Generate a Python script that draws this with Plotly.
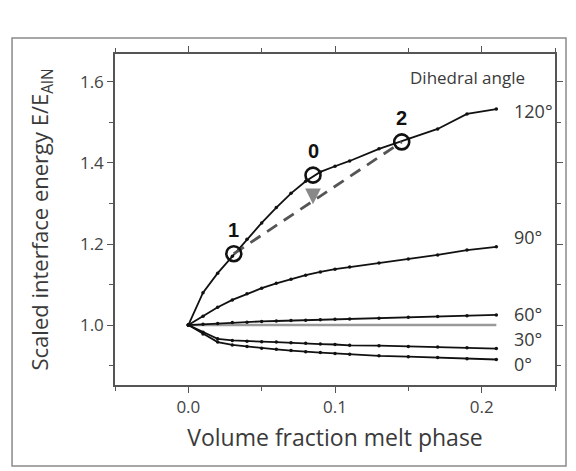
import plotly.graph_objects as go

x_vals = [0, 0.01, 0.02, 0.03, 0.04, 0.05, 0.06, 0.07, 0.08, 0.09, 0.10, 0.11, 0.13, 0.15, 0.17, 0.19, 0.21]
e_120 = [1.0, 1.080, 1.128, 1.170, 1.212, 1.252, 1.290, 1.325, 1.355, 1.378, 1.392, 1.405, 1.435, 1.460, 1.484, 1.521, 1.533]
e_90 = [1.0, 1.022, 1.044, 1.062, 1.077, 1.091, 1.103, 1.113, 1.123, 1.131, 1.138, 1.143, 1.153, 1.163, 1.173, 1.185, 1.193]
e_60 = [1.0, 1.002, 1.004, 1.006, 1.007, 1.009, 1.010, 1.011, 1.012, 1.013, 1.014, 1.015, 1.017, 1.019, 1.021, 1.023, 1.025]
e_30 = [1.0, 0.982, 0.966, 0.962, 0.960, 0.959, 0.958, 0.956, 0.955, 0.953, 0.952, 0.950, 0.949, 0.947, 0.946, 0.944, 0.942]
e_0 = [1.0, 0.978, 0.958, 0.951, 0.947, 0.943, 0.940, 0.937, 0.934, 0.932, 0.930, 0.928, 0.924, 0.922, 0.920, 0.917, 0.915]
ref_x = [0, 0.21]
ref_y = [1.0, 1.0]

circ_x = [0.031, 0.085, 0.1455]
circ_y = [1.176, 1.370, 1.452]
circ_labels = ["1", "0", "2"]
dash_x = [0.031, 0.1455]
dash_y = [1.176, 1.452]

angle_labels = ["120°", "90°", "60°", "30°", "0°"]
angle_label_y = [1.528, 1.217, 1.027, 0.965, 0.904]

FONT = "Open Sans"
TXT = "#3a3a3a"

fig = go.Figure()

fig.add_trace(go.Scatter(x=ref_x, y=ref_y, mode="lines",
                         line=dict(color="#9a9a9a", width=2.5), showlegend=False))
for ys in [e_0, e_30, e_60, e_90, e_120]:
    fig.add_trace(go.Scatter(x=x_vals, y=ys, mode="lines+markers",
                             line=dict(color="#111111", width=1.8),
                             marker=dict(color="#111111", size=3.5),
                             showlegend=False))

fig.add_trace(go.Scatter(x=dash_x, y=dash_y, mode="lines",
                         line=dict(color="#555555", width=2.8, dash="12px,8px"),
                         showlegend=False))
fig.add_trace(go.Scatter(x=circ_x, y=circ_y, mode="markers",
                         marker=dict(symbol="circle-open", size=15, color="#111111",
                                     line=dict(width=2.6, color="#111111")),
                         showlegend=False))

# arrow from circle 0 down to the dashed line
fig.add_annotation(x=circ_x[1], y=1.298, ax=circ_x[1], ay=circ_y[1] - 0.016,
                   xref="x", yref="y", axref="x", ayref="y", text=" ",
                   showarrow=True, arrowhead=2, arrowsize=0.9, arrowwidth=3.5,
                   arrowcolor="#888888")

for cx, cy, lab in zip(circ_x, circ_y, circ_labels):
    fig.add_annotation(x=cx, y=cy, text=f"<b>{lab}</b>", showarrow=False,
                       yshift=24, font=dict(family="Liberation Sans", size=20, color="#111111"))

for lab, ly in zip(angle_labels, angle_label_y):
    fig.add_annotation(x=0.221, y=ly, text=lab, showarrow=False, xanchor="left",
                       font=dict(family=FONT, size=18, color=TXT))

fig.add_annotation(x=0.1905, y=1.612, text="Dihedral angle", showarrow=False,
                   font=dict(family=FONT, size=17, color=TXT))

# outer frame
fig.add_shape(type="rect", xref="paper", yref="paper",
              x0=-0.234, x1=1.025, y0=-0.245, y1=1.048,
              line=dict(color="#8a8a8a", width=1.5), layer="below")

axis_common = dict(showgrid=False, zeroline=False, showline=True, linecolor="#555555",
                   linewidth=1.5, mirror="ticks", ticks="outside", ticklen=6,
                   tickwidth=1.3, tickcolor="#555555",
                   tickfont=dict(family=FONT, size=17, color="#444444"))

fig.update_xaxes(range=[-0.05, 0.25], tickvals=[0.0, 0.1, 0.2],
                 ticktext=["0.0", "0.1", "0.2"],
                 minor=dict(tickvals=[-0.05, 0.05, 0.15, 0.25], ticks="outside", ticklen=4,
                            tickcolor="#555555", tickwidth=1.3),
                 title=dict(text="Volume fraction melt phase", standoff=13,
                            font=dict(family=FONT, size=23, color=TXT)),
                 **axis_common)
fig.update_yaxes(range=[0.852, 1.669], tickvals=[1.0, 1.2, 1.4, 1.6],
                 ticktext=["1.0", "1.2", "1.4", "1.6"],
                 minor=dict(tickvals=[0.9, 1.1, 1.3, 1.5], ticks="outside", ticklen=4,
                            tickcolor="#555555", tickwidth=1.3),
                 title=dict(text="Scaled interface energy E/E<sub>AlN</sub>", standoff=25,
                            font=dict(family=FONT, size=22, color=TXT)),
                 **axis_common)

fig.update_layout(width=576, height=471,
                  margin=dict(l=107, r=29, t=46, b=94),
                  paper_bgcolor="white", plot_bgcolor="white")

fig.write_html("out.html")
